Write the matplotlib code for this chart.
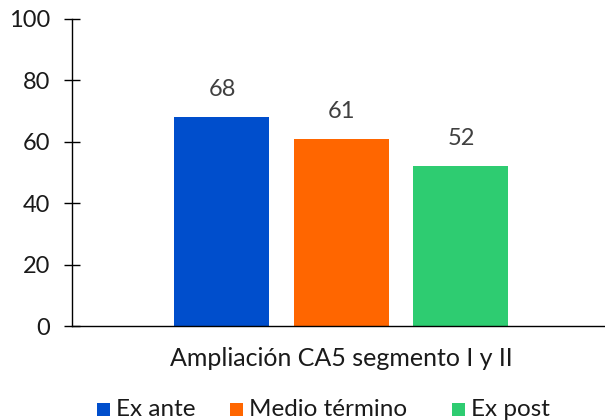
import matplotlib
matplotlib.use("Agg")
import matplotlib.pyplot as plt
from matplotlib.patches import Rectangle

plt.rcParams['font.family'] = ['Lato', 'DejaVu Sans']

category = "Ampliación CA5 segmento I y II"
series = ["Ex ante", "Medio término", "Ex post"]
values = [68, 61, 52]
colors = ["#004ECC", "#FF6600", "#2ECC71"]
yticks = [0, 20, 40, 60, 80, 100]

W, H = 605, 420
fig = plt.figure(figsize=(W / 100, H / 100), dpi=100)
ax = fig.add_axes([0.119, 0.2238, 0.881, 0.731])

offsets = [-1, 0, 1]
width = 0.795
for off, v, c in zip(offsets, values, colors):
    ax.bar(off, v, width=width, color=c, zorder=2)
    ax.text(off, v + 5.5, str(v), ha='center', va='bottom', fontsize=17, color='#404040')

ax.set_xlim(-2.255, 2.205)
ax.set_ylim(0, 100)
ax.set_yticks(yticks)
ax.set_yticklabels([str(t) for t in yticks], fontsize=17, color='#1a1a1a')
ax.tick_params(axis='y', direction='inout', length=11, width=1, pad=10)
ax.set_xticks([0])
ax.set_xticklabels([category], fontsize=18, color='#1a1a1a')
ax.tick_params(axis='x', length=0, pad=15)
for s in ['top', 'right']:
    ax.spines[s].set_visible(False)
ax.spines['left'].set_linewidth(1)
ax.spines['bottom'].set_linewidth(1)

# legend drawn manually (pixel layout)
leg_x = [97, 230, 452]
sq = 13
sq_bottom = 416
for x, s, c in zip(leg_x, series, colors):
    fig.add_artist(Rectangle((x / W, 1 - sq_bottom / H), sq / W, sq / H,
                             transform=fig.transFigure, facecolor=c, edgecolor='none'))
    fig.text((x + sq + 6) / W, 1 - 416.5 / H, s, ha='left', va='baseline',
             fontsize=17.5, color='#1a1a1a')

fig.savefig("out.png", dpi=100)
